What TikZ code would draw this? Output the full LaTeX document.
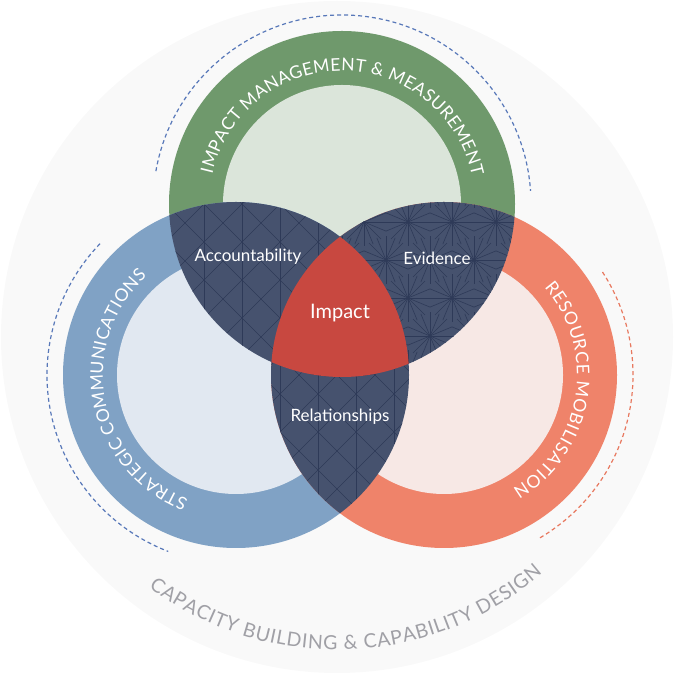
\documentclass[tikz,border=0pt]{standalone}
\usepackage{fontspec}
\setmainfont{Lato}
\usetikzlibrary{decorations.text}
\definecolor{G}{RGB}{111,153,108}
\definecolor{Gl}{RGB}{219,229,218}
\definecolor{B}{RGB}{128,162,197}
\definecolor{Bl}{RGB}{225,232,241}
\definecolor{O}{RGB}{239,131,106}
\definecolor{Ol}{RGB}{247,232,229}
\definecolor{Navy}{RGB}{70,82,110}
\definecolor{Line}{RGB}{46,58,88}
\definecolor{Red}{RGB}{200,72,64}
\definecolor{Bg}{RGB}{249,249,249}
\definecolor{Txt}{RGB}{160,160,166}
\definecolor{DashB}{RGB}{88,120,185}
\definecolor{DashO}{RGB}{232,120,95}
\newcommand{\ring}[3]{\fill[#2] (#1) circle (173); \fill[#3] (#1) circle (119);}
\newcommand{\cubegrid}{
    \foreach \k in {-18,...,18}{
    \draw[patline] (\k*38,0)--++(700,700);
    \draw[patline] (\k*38+674,0)--++(-700,700);
    }
    \foreach \k in {0,...,18}{
      \draw[patline] (\k*38+14,0)--++(0,674);
    }
}
\newcommand{\stargrid}{
    \foreach \i in {0,...,5}{\foreach \j in {0,...,5}{
    \foreach \a in {0,22.5,...,337.5}{
      \draw[patline] ({320+\i*44+22*mod(\j,2)},{300+\j*38})--++(\a:24);
    }}}
}
\newcommand{\lens}[3]{\begin{scope}\clip (#1) circle (173); \clip (#2) circle (173);
    \fill[Navy] (0,0) rectangle (674,674); #3 \end{scope}}
\newcommand{\ringtext}[4]{\path[decorate,decoration={text along path,text color=white,text align=fit to path,
    text={|\fontsize{17.5}{20}\selectfont|#4}}] (#1)++(#2:133) arc[start angle=#2,end angle=#3,radius=133];}

\begin{document}
\begin{tikzpicture}[x=1pt,y=1pt,
    patline/.style={draw=Line,line width=0.6pt},
    lbl/.style={text=white,font=\fontsize{17}{20}\selectfont},
    dashring/.style={line width=1.2pt,dash pattern=on 4pt off 3pt}]
\useasboundingbox (0,0) rectangle (674,674);
\coordinate (c) at (337,337);
\coordinate (g) at (342,470);
\coordinate (b) at (236,299);
\coordinate (o) at (444,299);
\fill[Bg] (c) circle (336);
\draw[dashring,DashB] (g)++(170:189) arc[start angle=170,end angle=4,radius=189];
\draw[dashring,DashB] (b)++(136:189) arc[start angle=136,end angle=249,radius=189];
\draw[dashring,DashO] (o)++(33:189) arc[start angle=33,end angle=-60,radius=189];
\ring{g}{G}{Gl}\ring{b}{B}{Bl}\ring{o}{O}{Ol}
\lens{g}{b}{\cubegrid}\lens{b}{o}{\cubegrid}\lens{g}{o}{\stargrid}
\begin{scope}\clip (g) circle (173); \clip (b) circle (173); \fill[Red] (o) circle (173);\end{scope}
\ringtext{g}{167}{12}{IMPACT MANAGEMENT {\&} MEASUREMENT}
\ringtext{b}{249}{132}{STRATEGIC COMMUNICATIONS}
\ringtext{o}{41}{-59}{RESOURCE MOBILISATION}
\path[decorate,decoration={text along path,text color=Txt,text align=fit to path,
    text={|\fontsize{19.5}{24}\selectfont|CAPACITY BUILDING {\&} CAPABILITY DESIGN}}]
    (c)++(233:313) arc[start angle=233,end angle=311,radius=313];
\node[lbl] (acc) at (248,417) {Accountability};
\node[lbl] (evi) at (437,416) {Evidence};
\node[lbl,font=\fontsize{20}{24}\selectfont] (imp) at (340,361) {Impact};
\node[lbl] (rel) at (340,257) {Relationships};
\end{tikzpicture}
\end{document}
